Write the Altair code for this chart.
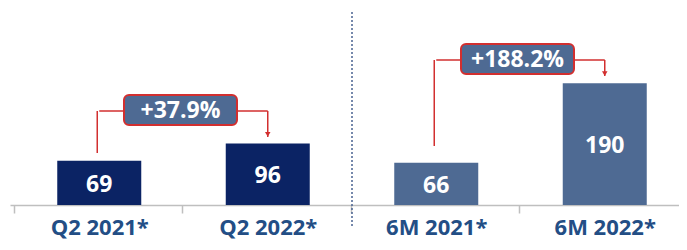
import altair as alt
import pandas as pd

# ---- data ----
categories = ["Q2 2021*", "Q2 2022*", "6M 2021*", "6M 2022*"]
values = [69, 96, 66, 190]
groups = ["Q2", "Q2", "6M", "6M"]

pair_left = [0, 2]
pair_right = [1, 3]
growth_labels = ["+37.9%", "+188.2%"]
bracket_level = [146.8, 226.4]
bracket_start = [81.2, 92.1]
arrow_tip = [106.2, 201.4]
separator_pos = [1.5]

Y_MAX = 307.6

bars_df = pd.DataFrame({
    "idx": list(range(len(categories))),
    "cat": categories,
    "value": values,
    "group": groups,
})
ann_df = pd.DataFrame({
    "left": pair_left,
    "right": pair_right,
    "label": growth_labels,
    "level": bracket_level,
    "start": bracket_start,
    "tip": arrow_tip,
})
ann_df["mid"] = (ann_df["left"] + ann_df["right"]) / 2
sep_df = pd.DataFrame({"pos": separator_pos})

FONT = "Open Sans"
RED = "#D22F2F"
BOX = "#4E6A93"
NAVY = "#0B2364"

xscale = alt.Scale(domain=[-0.5, 3.5], range=[2, 686], nice=False, zero=False)
yscale = alt.Scale(domain=[0, Y_MAX], nice=False, zero=False)

label_expr = "[" + ",".join("'" + c + "'" for c in categories) + "][datum.value]"

x_axis = alt.Axis(
    values=list(range(len(categories))),
    labelExpr=label_expr,
    title=None,
    grid=False,
    domainColor="#BFBFBF",
    domainWidth=1.5,
    tickColor="#BFBFBF",
    tickWidth=1.5,
    tickSize=8,
    tickOffset=-85.5,
    labelOffset=85.5,
    labelFont=FONT,
    labelFontSize=22,
    labelFontWeight="bold",
    labelColor="#234E85",
    labelBaseline="alphabetic",
    labelPadding=21,
    labelOverlap=False,
    labelBound=False,
    labelFlush=False,
)

base = alt.Chart(bars_df)

bars = base.mark_bar(width=84).encode(
    x=alt.X("idx:Q", scale=xscale, axis=x_axis),
    y=alt.Y("value:Q", scale=yscale, axis=None),
    color=alt.Color("group:N", scale=alt.Scale(domain=["Q2", "6M"], range=[NAVY, BOX]), legend=None),
)

value_text = base.transform_calculate(half="datum.value / 2").mark_text(
    font=FONT, fontSize=23, fontWeight="bold", color="white", baseline="middle", dy=2
).encode(
    x=alt.X("idx:Q", scale=xscale),
    y=alt.Y("half:Q", scale=yscale),
    text="value:Q",
)

separator = alt.Chart(sep_df).mark_rule(
    color="#4A6391", strokeWidth=1.5, strokeDash=[2, 2]
).encode(
    x=alt.X("pos:Q", scale=xscale),
    y=alt.value(4),
    y2=alt.value(220),
)

ann = alt.Chart(ann_df)

left_v = ann.mark_rule(color=RED, strokeWidth=1.5, xOffset=-2).encode(
    x=alt.X("left:Q", scale=xscale),
    y=alt.Y("start:Q", scale=yscale),
    y2="level:Q",
)
horiz = ann.mark_rule(color=RED, strokeWidth=1.5).encode(
    x=alt.X("left:Q", scale=xscale),
    x2="right:Q",
    y=alt.Y("level:Q", scale=yscale),
)
right_v = ann.mark_rule(color=RED, strokeWidth=1.5).encode(
    x=alt.X("right:Q", scale=xscale),
    y=alt.Y("level:Q", scale=yscale),
    y2="tip:Q",
)
arrow = ann.mark_point(
    shape="triangle-down", filled=True, color=RED, size=30, opacity=1, yOffset=-2.5
).encode(
    x=alt.X("right:Q", scale=xscale),
    y=alt.Y("tip:Q", scale=yscale),
)
box = ann.mark_rect(
    width=113, height=30, cornerRadius=5, fill=BOX, stroke=RED, strokeWidth=2,
    xOffset=-3, yOffset=-1
).encode(
    x=alt.X("mid:Q", scale=xscale),
    y=alt.Y("level:Q", scale=yscale),
)
box_text = ann.mark_text(
    font=FONT, fontSize=23, fontWeight="bold", color="white", baseline="middle",
    dx=-3, dy=0
).encode(
    x=alt.X("mid:Q", scale=xscale),
    y=alt.Y("level:Q", scale=yscale),
    text="label:N",
)

chart = alt.layer(
    bars, value_text, separator, left_v, horiz, right_v, arrow, box, box_text
).properties(
    width=671,
    height=197,
    autosize=alt.AutoSizeParams(type="none"),
    padding={"left": 0, "top": 0, "right": 0, "bottom": 37},
    background="white",
).configure_view(stroke=None)

chart.save("out.html", embed_options={"renderer": "svg", "actions": False})
